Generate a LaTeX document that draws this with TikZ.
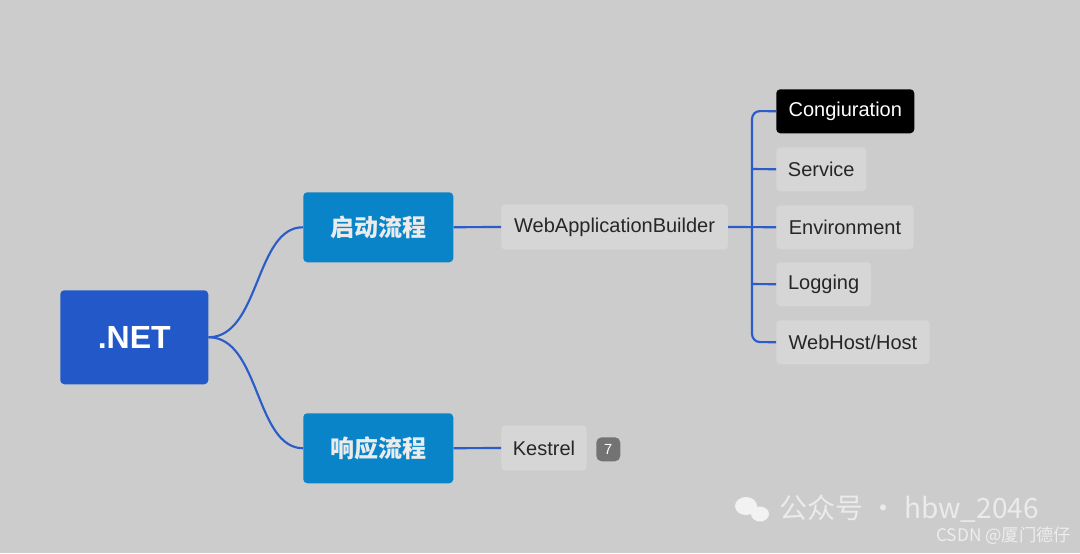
\documentclass[tikz,border=0pt]{standalone}
\usepackage{fontspec}
\setmainfont{Liberation Sans}
\newfontfamily\cjk{Noto Sans CJK SC}
\definecolor{bg}{HTML}{CCCCCC}
\definecolor{rootc}{HTML}{2258C8}
\definecolor{midc}{HTML}{0A84C8}
\definecolor{leafc}{HTML}{D6D6D6}
\definecolor{linec}{HTML}{2B5CC8}
\begin{document}
\begin{tikzpicture}[x=0.75pt,y=-0.75pt,
  box/.style={rounded corners=3pt,inner sep=0pt,anchor=north west},
  leaf/.style={box,fill=leafc,font=\fontsize{15}{18}\selectfont,text=black!85},
  conn/.style={draw=linec,line width=1.6pt}]
\fill[bg] (0,0) rectangle (1080,553);
\useasboundingbox (0,0) rectangle (1080,553);
\node[box,fill=rootc,minimum width=111pt,minimum height=70.5pt,text=white,font=\fontsize{24}{28}\selectfont\bfseries] (root) at (60,290) {.NET};
\node[box,fill=midc,minimum width=112.5pt,minimum height=52.5pt,text=white!92!black,font=\fontsize{18}{22}\selectfont\cjk\bfseries] (m1) at (303,192) {启动流程};
\node[box,fill=midc,minimum width=112.5pt,minimum height=52.5pt,text=white!92!black,font=\fontsize{18}{22}\selectfont\cjk\bfseries] (m2) at (303,413) {响应流程};
\node[leaf,minimum width=170pt,minimum height=34pt] (wab) at (501,204) {WebApplicationBuilder};
\node[leaf,minimum width=64pt,minimum height=34pt] (kes) at (501,425) {Kestrel};
\node[box,fill=black!55,rounded corners=4pt,minimum width=18pt,minimum height=18pt,text=white,font=\fontsize{11}{13}\selectfont] (badge) at (596,437) {7};
\node[box,fill=black,text=white,minimum width=103.5pt,minimum height=33pt,font=\fontsize{15}{18}\selectfont] (c1) at (776,89) {Congiuration};
\node[leaf,minimum width=67.5pt,minimum height=33pt] (c2) at (776,147) {Service};
\node[leaf,minimum width=103pt,minimum height=33pt] (c3) at (776,205) {Environment};
\node[leaf,minimum width=71pt,minimum height=33pt] (c4) at (776,262) {Logging};
\node[leaf,minimum width=115pt,minimum height=33pt] (c5) at (776,320) {WebHost/Host};
\draw[conn] (root.east) .. controls (260,337) and (255,227) .. (m1.west);
\draw[conn] (root.east) .. controls (260,337) and (255,448) .. (m2.west);
\draw[conn] (m1.east) -- (wab.west);
\draw[conn] (m2.east) -- (kes.west);
\coordinate (j) at (752,227);
\draw[conn] (wab.east) -- (c3.west);
\draw[conn,rounded corners=6pt] (c1.west) -- (752,111) -- (752,342) -- (c5.west);
\draw[conn] (752,169) -- (c2.west);
\draw[conn] (752,284) -- (c4.west);
% watermark
\fill[white!75!bg] (746,506) ellipse (11 and 9);
\fill[white!75!bg] (760,514) ellipse (9 and 7.5);
\node[anchor=west,text=white!60!bg,font=\fontsize{21}{24}\selectfont\cjk] (wm) at (775,509) {公众号 · hbw\_2046};
\node[anchor=east,text=white!65!bg,font=\fontsize{13}{15}\selectfont\cjk] (csdn) at (1076,536) {CSDN @厦门德仔};
\end{tikzpicture}
\end{document}
